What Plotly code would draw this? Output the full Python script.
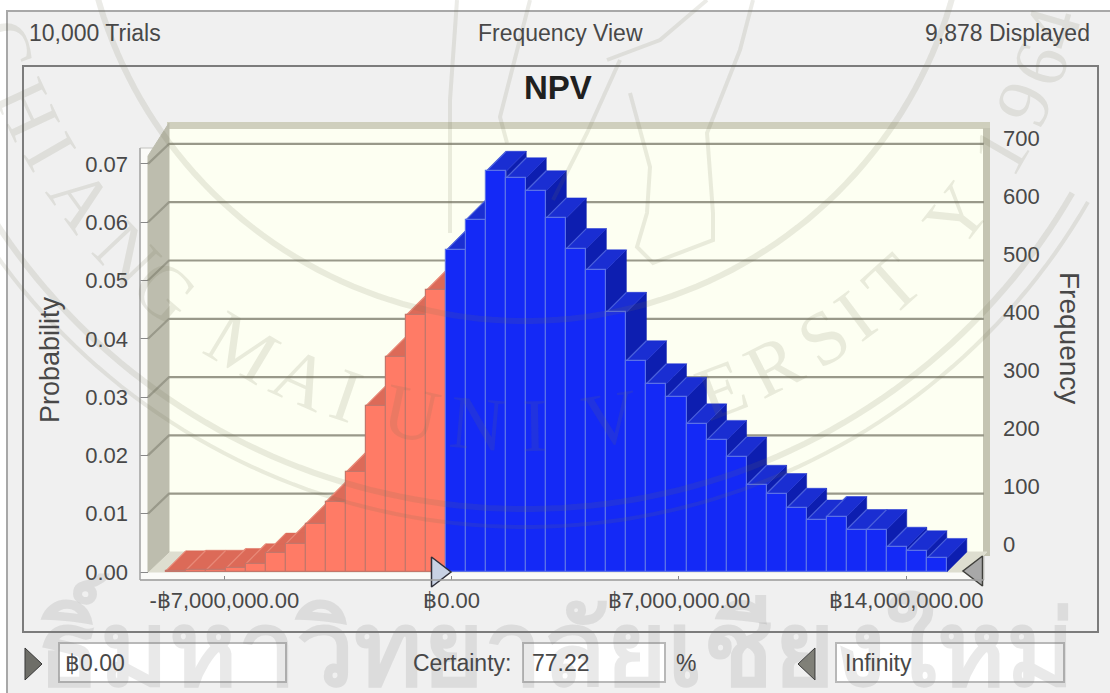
#import libraries
import numpy as np
import plotly.graph_objects as go

W, H = 1110, 693
#The plot area of the page stops a few pixels above the window bottom, paper coordinates are scaled on this
PAPER_H = 688

#Histogram values (frequency per bin, left to right)
freq_red = [2, 3, 3, 6, 14, 32, 48, 82, 119, 169, 282, 365, 435, 477]
freq_blue = [545, 597, 679, 668, 646, 600, 548, 512, 440, 358, 319, 296, 251, 223, 195,
             147, 133, 108, 88, 94, 72, 72, 42, 36, 23]
first_edge = -8.80e6
bin_width = 0.6167e6
displayed = 9878

#Tick labels
prob_ticks = [0.00, 0.01, 0.02, 0.03, 0.04, 0.05, 0.06, 0.07]
prob_labels = ["0.00", "0.01", "0.02", "0.03", "0.04", "0.05", "0.06", "0.07"]
freq_ticks = [0, 100, 200, 300, 400, 500, 600, 700]
x_ticks = [-7e6, 0, 7e6, 14e6]
x_labels = ["-฿7,000,000.00", "฿0.00", "฿7,000,000.00", "฿14,000,000.00"]

#Colours
RED_FRONT, RED_TOP, RED_SIDE, RED_EDGE = "#ff7b66", "#dc6a58", "#c85a4a", "#c4766a"
BLUE_FRONT, BLUE_TOP, BLUE_SIDE, BLUE_EDGE = "#1429f6", "#1a2ed2", "#0d1eb0", "#5a70e8"
PANEL = "#f0f0f0"
TEXT = "#484848"
FONT = "Liberation Sans"
SEAL = "rgba(110,110,85,0.14)"

#Scales of the picture: pixels per data unit
x_scale = 227.3 / 7e6
y_scale = 58.3 / 0.01
zero_x, zero_y = 451.6, 572
depth_px = 20
dx, dy = depth_px / x_scale, depth_px / y_scale


def to_x(px):
    return (px - zero_x) / x_scale


def to_y(py):
    return (zero_y - py) / y_scale


def pxx(px):
    return px / W


def pxy(py):
    return 1 - py / PAPER_H


def path_px(points, close=True):
    s = "M " + " L ".join(f"{pxx(a):.5f},{pxy(b):.5f}" for a, b in points)
    return s + (" Z" if close else "")


#Bars
freq = freq_red + freq_blue
prob = [f / displayed for f in freq]
edges = [first_edge + i * bin_width for i in range(len(freq) + 1)]
centers = [e + bin_width / 2 for e in edges[:-1]]
n_red = len(freq_red)
front_colors = [RED_FRONT] * n_red + [BLUE_FRONT] * len(freq_blue)
edge_colors = [RED_EDGE] * n_red + [BLUE_EDGE] * len(freq_blue)


def faces(start, stop, kind):
    xs, ys = [], []
    for i in range(start, stop):
        x0, x1, p = edges[i], edges[i + 1], prob[i]
        if kind == "top":
            xs += [x0, x1, x1 + dx, x0 + dx, x0, None]
            ys += [p, p, p + dy, p + dy, p, None]
        elif kind == "side":
            xs += [x1, x1 + dx, x1 + dx, x1, x1, None]
            ys += [0, dy, p + dy, p, 0, None]
        else:  #diagonal edge between two tops
            xs += [x0, x0 + dx, None]
            ys += [p, p + dy, None]
    return xs, ys


fig = go.Figure()

#Back wall gridlines with their slant over the left wall
x_wall = to_x(148)
x_back = to_x(169)
x_right = to_x(984)
gx, gy = [], []
for t in prob_ticks[1:]:
    gx += [x_wall, x_back, x_right, None]
    gy += [t, t + dy, t + dy, None]
fig.add_trace(go.Scatter(x=gx, y=gy, mode="lines", line=dict(color="#99998a", width=2.2),
                         hoverinfo="skip", showlegend=False))

#Depth faces of the bars: sides first, then tops
for start, stop, side_c, top_c, edge_c in [(0, n_red, RED_SIDE, RED_TOP, "#e88a78"),
                                           (n_red, len(freq), BLUE_SIDE, BLUE_TOP, "#4a60dc")]:
    xs, ys = faces(start, stop, "side")
    fig.add_trace(go.Scatter(x=xs, y=ys, mode="lines", fill="toself", fillcolor=side_c,
                             line=dict(color=side_c, width=0.5), hoverinfo="skip", showlegend=False))
for start, stop, side_c, top_c, edge_c in [(0, n_red, RED_SIDE, RED_TOP, "#e88a78"),
                                           (n_red, len(freq), BLUE_SIDE, BLUE_TOP, "#4a60dc")]:
    xs, ys = faces(start, stop, "top")
    fig.add_trace(go.Scatter(x=xs, y=ys, mode="lines", fill="toself", fillcolor=top_c,
                             line=dict(color=top_c, width=0.5), hoverinfo="skip", showlegend=False))
    xs, ys = faces(start, stop, "edge")
    fig.add_trace(go.Scatter(x=xs, y=ys, mode="lines", line=dict(color=edge_c, width=1.2),
                             hoverinfo="skip", showlegend=False))

#Front faces on an overlaying pair of axes so they cover the depth faces
fig.add_trace(go.Bar(x=centers, y=prob, width=bin_width, xaxis="x2", yaxis="y2",
                     marker=dict(color=front_colors, line=dict(color=edge_colors, width=1.2)),
                     hoverinfo="skip", showlegend=False))

#Certainty grabbers on the axis
fig.add_trace(go.Scatter(x=[to_x(438)], y=[0], xaxis="x2", yaxis="y2", mode="markers", cliponaxis=False,
                         marker=dict(symbol="triangle-right", size=26, color="#c8d2e4",
                                     line=dict(color="#30303a", width=1.5)),
                         hoverinfo="skip", showlegend=False))
fig.add_trace(go.Scatter(x=[to_x(976)], y=[to_y(571)], xaxis="x2", yaxis="y2", mode="markers", cliponaxis=False,
                         marker=dict(symbol="triangle-left", size=26, color="#a8a8a8",
                                     line=dict(color="#40403c", width=1.5)),
                         hoverinfo="skip", showlegend=False))

#Hidden trace that keeps the frequency axis alive
fig.add_trace(go.Scatter(x=[to_x(500)] * len(freq_ticks), y=freq_ticks, yaxis="y3", mode="markers",
                         marker=dict(opacity=0), hoverinfo="skip", showlegend=False))

x_range = [to_x(140), to_x(989)]
y_range = [to_y(580), to_y(122)]
x_dom = [pxx(140), pxx(989)]
y_dom = [pxy(580), pxy(122)]
f_per_px = 700 / 406
f_range = [(544 - 580) * f_per_px, (544 - 122) * f_per_px]

fig.update_layout(
    width=W, height=H, margin=dict(l=0, r=0, t=0, b=0, pad=0),
    paper_bgcolor=PANEL, plot_bgcolor="rgba(0,0,0,0)", barmode="overlay", bargap=0,
    font=dict(family=FONT, size=22, color=TEXT), showlegend=False,
    xaxis=dict(domain=x_dom, range=x_range, tickvals=x_ticks, ticktext=x_labels, ticks="inside", ticklen=4,
               tickcolor="#888888", showgrid=False, zeroline=False, showline=False, anchor="y",
               ticklabelstandoff=5, tickfont=dict(size=22, color=TEXT)),
    yaxis=dict(domain=y_dom, range=y_range, tickvals=prob_ticks, ticktext=prob_labels, ticks="inside", ticklen=8,
               tickcolor="#888888", showgrid=False, zeroline=False, showline=False, anchor="x",
               ticklabelstandoff=11, tickfont=dict(size=22, color=TEXT)),
    xaxis2=dict(domain=x_dom, range=x_range, overlaying="x", visible=False, anchor="y2"),
    yaxis2=dict(domain=y_dom, range=y_range, overlaying="y", visible=False, anchor="x2"),
    yaxis3=dict(domain=y_dom, range=f_range, overlaying="y", side="right", anchor="free", position=pxx(1002),
                tickvals=freq_ticks, showgrid=False, zeroline=False, showline=False, ticks="",
                tickfont=dict(size=22, color=TEXT)),
)

#Window chrome, behind everything
shapes = []


def rect(x0, y0, x1, y1, fill=None, line=None, width=1, layer="below"):
    shapes.append(dict(type="rect", xref="paper", yref="paper", x0=pxx(x0), y0=pxy(y0), x1=pxx(x1), y1=pxy(y1),
                       fillcolor=fill or "rgba(0,0,0,0)", line=dict(color=line or "rgba(0,0,0,0)", width=width),
                       layer=layer))


def poly(points, fill, line=None, layer="below", width=1):
    shapes.append(dict(type="path", xref="paper", yref="paper", path=path_px(points), fillcolor=fill,
                       line=dict(color=line or fill, width=width), layer=layer))


#White margin above and left of the window
rect(-5, -5, 1120, 11, fill="white")
rect(-5, -5, 7, 700, fill="white")
rect(7, 11, 1115, 700, fill=PANEL, line="#a8a8a8", width=2)
rect(23, 66, 1098, 632, fill=PANEL, line="#7c7c7c", width=2)
rect(140, 148, 984, 580, fill="#fbfbf8", line="#c4c4c0")
#back wall, top strip, right strip, floor, left wall
rect(169, 128, 984, 552, fill="#fdfff2")
rect(167, 122, 990, 129, fill="#cfcfbd")
rect(983, 128, 990, 556, fill="#c4c4b2")
poly([(148, 572), (967, 572), (987, 552), (169, 552)], "#deded0")
poly([(148, 156), (169, 123), (169, 552), (148, 572)], "#bdbdae")

#Input boxes and their arrows
rect(59, 643, 286, 682, fill="white", line="#b8b8b8", width=2, layer="above")
rect(523, 643, 665, 682, fill="white", line="#b8b8b8", width=2, layer="above")
rect(836, 643, 1064, 682, fill="white", line="#b8b8b8", width=2, layer="above")
poly([(25, 648), (42, 664), (25, 680)], "#6e6e68", line="#383838", layer="above")
poly([(815, 648), (798, 664), (815, 680)], "#808078", line="#383838", layer="above")

#Left and bottom lines of the chart
shapes.append(dict(type="line", xref="paper", yref="paper", x0=pxx(140), x1=pxx(140), y0=pxy(148), y1=pxy(580),
                   line=dict(color="#a8a8a8", width=1.5), layer="above"))
shapes.append(dict(type="line", xref="paper", yref="paper", x0=pxx(140), x1=pxx(984), y0=pxy(580), y1=pxy(580),
                   line=dict(color="#a0a0a0", width=1.5), layer="above"))


#Watermark seal: rings around one centre
def ring(r, a0, a1, width=5):
    t = np.radians(np.linspace(a0, a1, 90))
    pts = [(525 + r * np.sin(a), -123 + r * np.cos(a)) for a in t]
    shapes.append(dict(type="path", xref="paper", yref="paper", path=path_px(pts, close=False),
                       line=dict(color=SEAL, width=width), layer="above"))


ring(444, -75, 75, 6)
ring(632, -60, 60, 6)
ring(650, -60, 60, 4)

#Legs of the bird in the middle of the seal
for pts in [[(457, 0), (450, 100), (450, 233)],
            [(530, 0), (500, 117), (507, 143)],
            [(620, 60), (587, 133), (553, 200)],
            [(630, 93), (650, 167), (647, 213), (637, 247), (653, 263), (713, 240), (713, 213), (707, 133),
             (740, 50), (753, 0)],
            [(607, 60), (660, 40), (707, 0)]]:
    shapes.append(dict(type="path", xref="paper", yref="paper", path=path_px(pts, close=False),
                       line=dict(color=SEAL, width=4), layer="above"))

fig.update_layout(shapes=shapes)

#All the texts of the window
notes = []


def note(txt, x, y, size=23, color=TEXT, anchor="left", angle=0, bold=False, family=FONT):
    notes.append(dict(text=f"<b>{txt}</b>" if bold else txt, xref="paper", yref="paper", x=pxx(x), y=pxy(y),
                      xanchor=anchor, yanchor="middle", showarrow=False, textangle=angle,
                      font=dict(family=family, size=size, color=color)))


#Watermark letters along the seal
letters = "CHIANG MAI UNIVERSITY 1964"
letter_angles = [-72, -65, -60, -54, -46.5, -41, 0, -31, -24, -19, 0, -12, -5, 1, 9, 21, 27, 33, 37, 42, 52, 0, 60,
                 65.6, 70, 74]
for ch, a in zip(letters, letter_angles):
    if ch == " ":
        continue
    t = np.radians(a)
    note(ch, 525 + 548 * np.sin(t), -123 + 548 * np.cos(t), size=76, color=SEAL, anchor="center", angle=-a,
         family="Liberation Serif")

#Big Thai watermark along the bottom
note("ธิ์มหาวิทยาลัยเชียงใหม่", 556, 640, size=104, color="rgba(120,120,120,0.16)", anchor="center", bold=True)

note("10,000 Trials", 27, 33)
note("Frequency View", 560, 33, anchor="center")
note("9,878 Displayed", 1092, 33, anchor="right")
note("NPV", 558, 87, size=33, color="#202020", anchor="center", bold=True)
note("Probability", 50, 360, size=27, anchor="center", angle=-90)
note("Frequency", 1070, 338, size=28, anchor="center", angle=90)
note("฿0.00", 63, 663)
note("Certainty:", 411, 663)
note("77.22", 530, 663)
note("%", 674, 663)
note("Infinity", 843, 663)

fig.update_layout(annotations=notes)

#Drop the page margin and scrollbars so that the figure starts in the window corner
page_css = "document.body.style.margin='0';document.documentElement.style.overflow='hidden';"
fig.write_html("out.html", post_script=page_css, config={"displayModeBar": False})
